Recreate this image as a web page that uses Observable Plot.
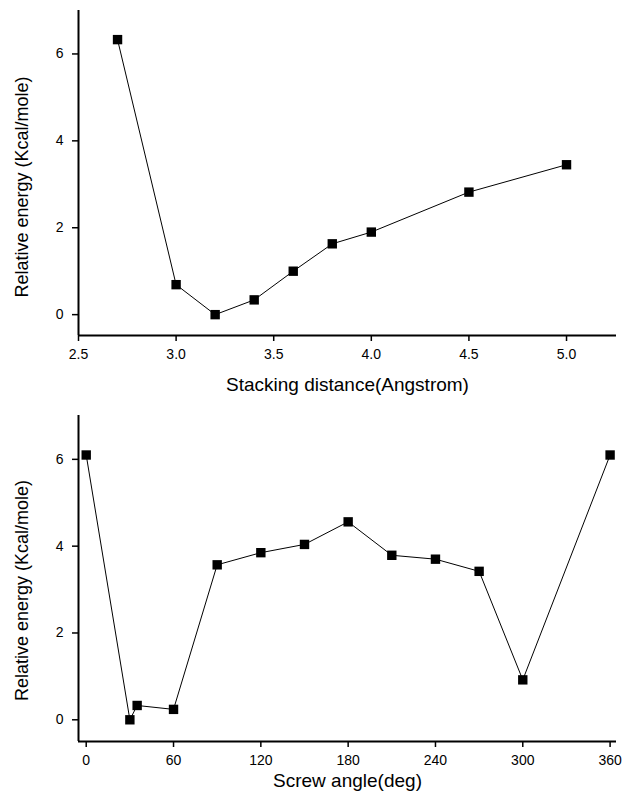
<!DOCTYPE html>
<html>
<head>
<meta charset="utf-8">
<script src="https://cdn.jsdelivr.net/npm/d3@7"></script>
<script src="https://cdn.jsdelivr.net/npm/@observablehq/plot@0.6"></script>
<style>
  html, body { margin: 0; padding: 0; background: #fff; }
  #chart { width: 624px; }
  #chart svg { display: block; font-family: "Liberation Sans", Arial, Helvetica, sans-serif; }
  #chart g[aria-label$="tick label"], #chart g[aria-label$="tick label"] text { font-size: 14px !important; fill: #000; }
</style>
</head>
<body>
<div id="chart"></div>
<script>
// Panel 1: stacking distance
const distance = [2.7, 3.0, 3.2, 3.4, 3.6, 3.8, 4.0, 4.5, 5.0];
const energyDistance = [6.33, 0.69, 0.0, 0.34, 1.0, 1.63, 1.9, 2.82, 3.45];
const distanceTicks = [2.5, 3.0, 3.5, 4.0, 4.5, 5.0];
const distanceTickLabels = ["2.5", "3.0", "3.5", "4.0", "4.5", "5.0"];

// Panel 2: screw angle
const angle = [0, 30, 35, 60, 90, 120, 150, 180, 210, 240, 270, 300, 360];
const energyAngle = [6.1, 0.0, 0.33, 0.24, 3.57, 3.85, 4.04, 4.56, 3.79, 3.7, 3.42, 0.92, 6.1];
const angleTicks = [0, 60, 120, 180, 240, 300, 360];
const angleTickLabels = ["0", "60", "120", "180", "240", "300", "360"];

const energyTicks = [0, 2, 4, 6];
const energyTickLabels = ["0", "2", "4", "6"];

const yLabel = "Relative energy (Kcal/mole)";
const xLabel1 = "Stacking distance(Angstrom)";
const xLabel2 = "Screw angle(deg)";

function panel({xs, ys, xDomain, yDomain, xTicks, xTickLabels, xLabel, height, marginTop, marginBottom, xLabelDy, yLabelDy}) {
  const data = xs.map((x, i) => ({x, y: ys[i]}));
  const xFmt = d => xTickLabels[xTicks.indexOf(d)];
  const yFmt = d => energyTickLabels[energyTicks.indexOf(d)];
  return Plot.plot({
    width: 624,
    height,
    marginLeft: 78,
    marginRight: 8,
    marginTop,
    marginBottom,
    style: {fontFamily: '"Liberation Sans", Arial, Helvetica, sans-serif', fontSize: "14px", color: "#000", background: "#fff"},
    x: {domain: xDomain},
    y: {domain: yDomain},
    marks: [
      Plot.axisX({ticks: xTicks, tickFormat: xFmt, tickSize: 6, tickPadding: 8, fontSize: 14, label: null, strokeWidth: 1.5}),
      Plot.axisY({ticks: energyTicks, tickFormat: yFmt, tickSize: 6, tickPadding: 9, fontSize: 14, label: null, strokeWidth: 1.5}),
      Plot.ruleX([xDomain[0]], {stroke: "#000", strokeWidth: 2}),
      Plot.ruleY([yDomain[0]], {stroke: "#000", strokeWidth: 2}),
      Plot.line(data, {x: "x", y: "y", stroke: "#000", strokeWidth: 1}),
      Plot.dot(data, {x: "x", y: "y", symbol: "square", r: 5.3, fill: "#000", stroke: "none"}),
      Plot.text([xLabel], {frameAnchor: "bottom", lineAnchor: "middle", textAnchor: "middle", dy: xLabelDy, fontSize: 19, fill: "#000", text: d => d}),
      Plot.text([yLabel], {frameAnchor: "left", lineAnchor: "middle", textAnchor: "middle", dx: -56, dy: yLabelDy, rotate: -90, fontSize: 18, fill: "#000", text: d => d})
    ]
  });
}

const chart = document.getElementById("chart");
chart.append(panel({
  xs: distance, ys: energyDistance,
  xDomain: [2.5, 5.256], yDomain: [-0.48, 7.0],
  xTicks: distanceTicks, xTickLabels: distanceTickLabels, xLabel: xLabel1,
  height: 400, marginTop: 10, marginBottom: 65, xLabelDy: 49, yLabelDy: 14
}));
chart.append(panel({
  xs: angle, ys: energyAngle,
  xDomain: [-5.3, 364.4], yDomain: [-0.5, 7.01],
  xTicks: angleTicks, xTickLabels: angleTickLabels, xLabel: xLabel2,
  height: 397, marginTop: 15, marginBottom: 56, xLabelDy: 39, yLabelDy: 12
}));
</script>
</body>
</html>
